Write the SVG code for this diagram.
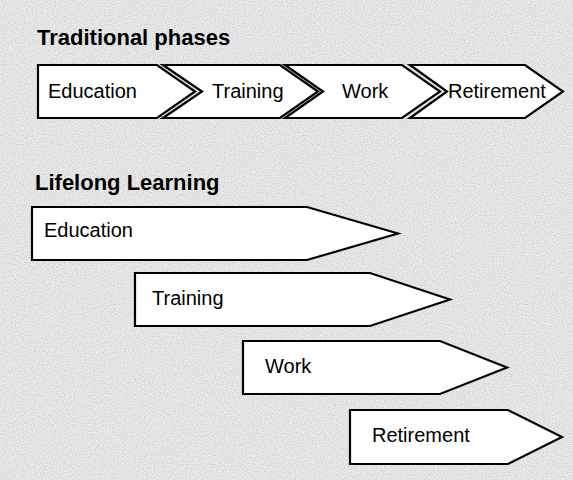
<svg xmlns="http://www.w3.org/2000/svg" width="573" height="480" viewBox="0 0 573 480">
  <defs>
    <filter id="noise" x="0" y="0" width="100%" height="100%">
      <feTurbulence type="fractalNoise" baseFrequency="0.9" numOctaves="1" seed="3" result="t"/>
      <feColorMatrix type="matrix" values="0 0 0 0 0.45  0 0 0 0 0.45  0 0 0 0 0.45  0 0 0 -2.2 1.35" in="t"/>
    </filter>
  </defs>
  <style>
    .bg { fill: #ececec; }
    .shape { fill: #ffffff; stroke: #000000; stroke-width: 2.2; stroke-linejoin: miter; }
    .label { font-family: "Liberation Sans", Arial, sans-serif; font-size: 20px; fill: #000000; }
    .title { font-family: "Liberation Sans", Arial, sans-serif; font-size: 22px; font-weight: bold; fill: #000000; }
  </style>
  <rect class="bg" x="0" y="0" width="573" height="480"/>
  <rect x="0" y="0" width="573" height="480" filter="url(#noise)" opacity="0.6"/>

  <text id="title-traditional" class="title" x="37" y="45">Traditional phases</text>
  <text id="title-lifelong" class="title" x="35" y="190">Lifelong Learning</text>

  <g id="connectors"></g>

  <g id="trad-education">
    <polygon class="shape" points="38,65 157,65 195,91.5 157,118 38,118"/>
    <text class="label" x="48" y="98">Education</text>
  </g>
  <g id="trad-training">
    <polygon class="shape" points="163,65 280,65 318,91.5 280,118 163,118 202,91.5"/>
    <text class="label" x="212" y="98">Training</text>
  </g>
  <g id="trad-work">
    <polygon class="shape" points="285,65 402,65 440,91.5 402,118 285,118 323,91.5"/>
    <text class="label" x="342" y="98">Work</text>
  </g>
  <g id="trad-retirement">
    <polygon class="shape" points="410,65 525,65 563,91.5 525,118 410,118 447,91.5"/>
    <text class="label" x="448" y="98">Retirement</text>
  </g>

  <g id="ll-education">
    <polygon class="shape" points="32,207 307,207 398,233.5 307,260 32,260"/>
    <text class="label" x="44" y="237">Education</text>
  </g>
  <g id="ll-training">
    <polygon class="shape" points="135,273 370,273 450,299.5 370,326 135,326"/>
    <text class="label" x="152" y="305">Training</text>
  </g>
  <g id="ll-work">
    <polygon class="shape" points="243,341 440,341 507,367.5 440,394 243,394"/>
    <text class="label" x="265" y="373">Work</text>
  </g>
  <g id="ll-retirement">
    <polygon class="shape" points="350,410 508,410 562,437 508,464 350,464"/>
    <text class="label" x="372" y="442">Retirement</text>
  </g>
</svg>
